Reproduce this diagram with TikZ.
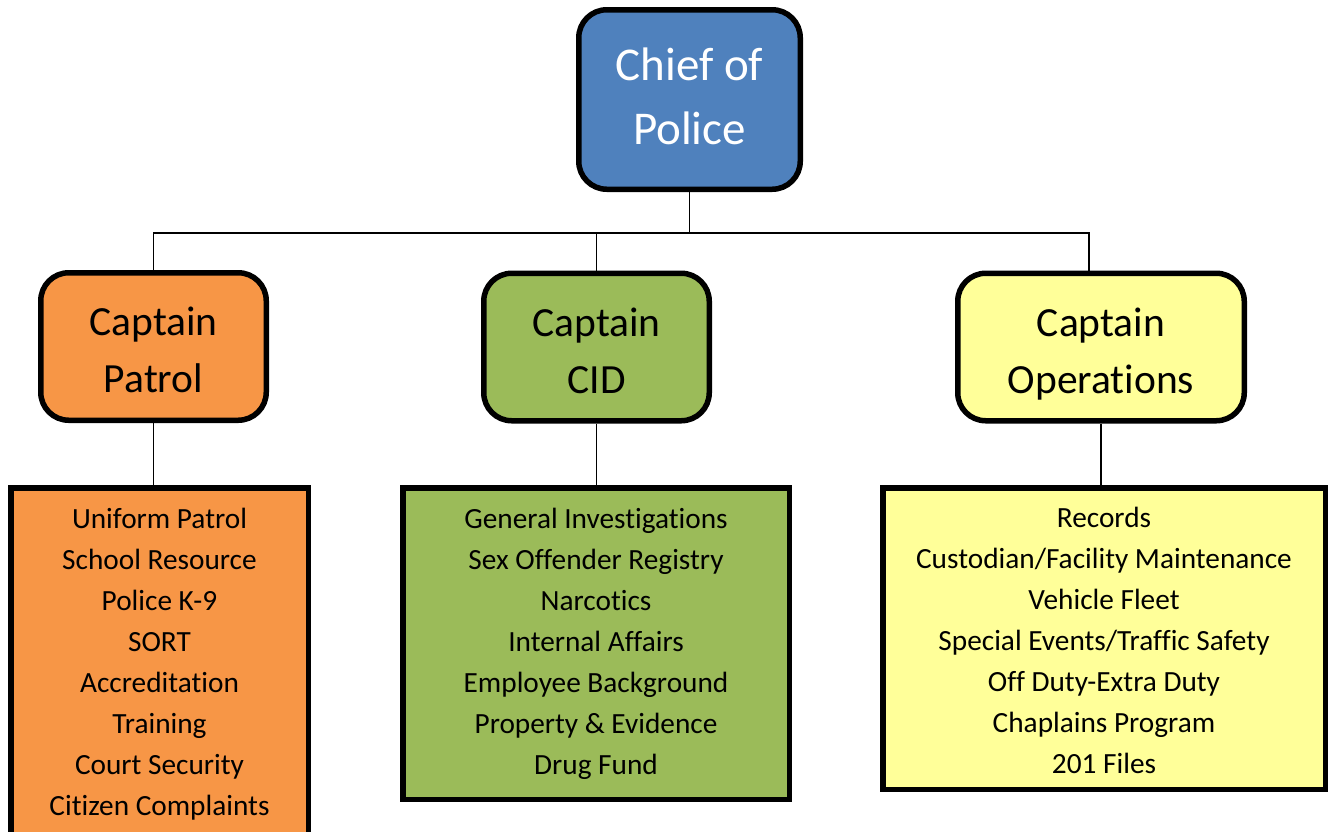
\documentclass[tikz,border=0pt]{standalone}
\usepackage{fontspec}
\setmainfont{Carlito}[Ligatures=CommonOff]
\usepackage{tikz}

\definecolor{chiefblue}{HTML}{4F81BD}
\definecolor{patrolorange}{HTML}{F79646}
\definecolor{cidgreen}{HTML}{9BBB59}
\definecolor{opsyellow}{HTML}{FFFF99}

\tikzset{
  headbox/.style={draw, line width=5.5pt, rounded corners=28pt, align=center, inner sep=2pt,
    text height=92pt, text depth=0pt, font=\fontsize{41.5}{57}\selectfont},
  unitbox/.style={draw, line width=5.5pt, align=center, inner sep=2pt, text depth=4pt,
    font=\fontsize{29.3}{41}\selectfont},
  link/.style={line width=1.8pt}
}

\begin{document}
\begin{tikzpicture}[x=1pt,y=-1pt]
\useasboundingbox (0,0) rectangle (1332,831);

\node[headbox, fill=chiefblue, text=white, minimum width=221.5pt, minimum height=179.5pt,
      text height=, text depth=6pt, font=\fontsize{47}{64}\selectfont] (chief) at (689.5,99.5) {Chief of\\Police};

\node[headbox, fill=patrolorange, minimum width=225.5pt, minimum height=147.5pt] (patrol) at (153.5,346.5) {Captain\\Patrol};
\node[headbox, fill=cidgreen, minimum width=225.5pt, minimum height=147.5pt] (cid) at (596.5,347) {Captain\\CID};
\node[headbox, fill=opsyellow, minimum width=286.5pt, minimum height=147.5pt] (ops) at (1101,347) {Captain\\Operations};

\node[unitbox, fill=patrolorange, minimum width=297.5pt, minimum height=351.5pt] (patrollist) at (159.5,663.5)
  {Uniform Patrol\\School Resource\\Police K-9\\SORT\\Accreditation\\Training\\Court Security\\Citizen Complaints};
\node[unitbox, fill=cidgreen, minimum width=386.5pt, minimum height=311.5pt] (cidlist) at (596,643.5)
  {General Investigations\\Sex Offender Registry\\Narcotics\\Internal Affairs\\Employee Background\\Property \& Evidence\\Drug Fund};
\node[unitbox, fill=opsyellow, minimum width=442.5pt, minimum height=301.5pt, text height=270pt, text depth=0pt] (opslist) at (1104,638.5)
  {Records\\Custodian/Facility Maintenance\\Vehicle Fleet\\Special Events/Traffic Safety\\Off Duty-Extra Duty\\Chaplains Program\\201 Files};

\coordinate (bus) at (0,233);
\draw[link] (chief.south) -- (chief.south |- bus);
\draw[link] (patrol.north) |- ([xshift=-12pt]ops.north |- bus) -- ([xshift=-12pt]ops.north);
\draw[link] (cid.north) -- (cid.north |- bus);

\draw[link] (patrol.south) -- (patrol.south |- patrollist.north);
\draw[link] (cid.south) -- (cid.south |- cidlist.north);
\draw[link] (ops.south) -- (ops.south |- opslist.north);
\end{tikzpicture}
\end{document}
